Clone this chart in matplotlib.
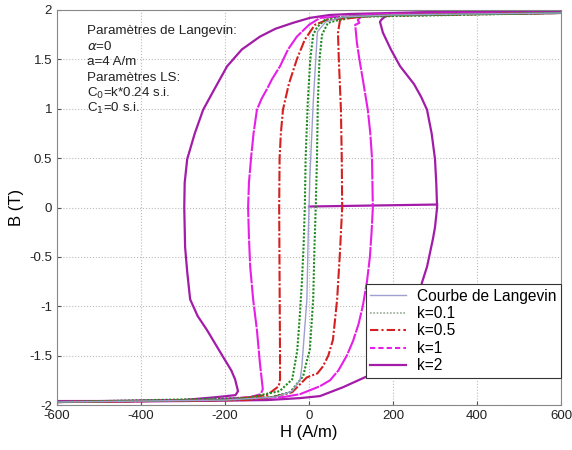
import numpy as np
import matplotlib
matplotlib.use('Agg')
import matplotlib.pyplot as plt
from matplotlib.lines import Line2D

plt.rcParams['font.family'] = ['Liberation Sans', 'DejaVu Sans']

# ── DATA ──────────────────────────────────────────────────────────────────────
# Langevin curve
H_lang = [-600, -200, -80, -40, -21, -17, -5, -2, 2, 10, 20, 40, 80, 200, 600]
B_lang = [-1.97, -1.95, -1.92, -1.86, -1.74, -1.61, -0.93, -0.3, 0.3, 1.06, 1.78, 1.88, 1.93, 1.95, 1.97]

# k=0.1 (descending / ascending branches)
H_k01_dn = [600, 200, 80, 38, 20, 10, 3, -3, -8, -10, -13, -17, -22, -28, -40, -70, -150, -600]
B_k01_dn = [1.97, 1.95, 1.93, 1.9, 1.83, 1.75, 1.5, 1.06, 0.5, 0, -0.4, -0.76, -1.1, -1.45, -1.74, -1.86, -1.93, -1.97]
H_k01_up = [-600, -200, -90, -45, -14, -5, 2, 10, 13, 16, 19, 21, 25, 31, 45, 100, 600]
B_k01_up = [-1.97, -1.95, -1.92, -1.87, -1.71, -1.55, -1.44, -0.93, -0.4, 0, 0.5, 1.06, 1.5, 1.75, 1.87, 1.93, 1.97]

# k=0.5
H_k05_dn = [600, 150, 43, 14, -10, -29, -48, -62, -67, -70, -71, -70, -69, -69, -72, -100, -200, -600]
B_k05_dn = [1.97, 1.94, 1.9, 1.85, 1.7, 1.5, 1.25, 0.99, 0.75, 0.5, 0, -0.76, -1.5, -1.74, -1.81, -1.9, -1.95, -1.97]
H_k05_up = [-600, -150, -86, -40, -5, 20, 33, 46, 57, 67, 74, 79, 78, 76, 71, 69, 74, 114, 200, 600]
B_k05_up = [-1.97, -1.95, -1.92, -1.87, -1.72, -1.68, -1.61, -1.5, -1.34, -0.93, -0.43, 0, 0.5, 0.99, 1.5, 1.77, 1.9, 1.93, 1.95, 1.97]

# k=1
H_k1_dn = [600, 200, 60, 26, 0, -29, -50, -69, -88, -100, -113, -124, -132, -138, -143, -145, -143, -140, -133, -124, -117, -110, -115, -140, -250, -600]
B_k1_dn = [1.97, 1.95, 1.93, 1.92, 1.85, 1.73, 1.6, 1.43, 1.3, 1.2, 1.1, 0.99, 0.75, 0.5, 0.25, 0, -0.3, -0.6, -0.93, -1.24, -1.57, -1.84, -1.89, -1.92, -1.95, -1.97]
H_k1_up = [-600, -200, -62, -21, 26, 50, 70, 90, 105, 118, 128, 138, 145, 149, 152, 151, 150, 146, 140, 128, 120, 114, 110, 120, 116, 129, 200, 600]
B_k1_up = [-1.97, -1.95, -1.92, -1.89, -1.81, -1.75, -1.65, -1.5, -1.35, -1.18, -1.0, -0.75, -0.5, -0.25, 0, 0.25, 0.5, 0.75, 0.99, 1.3, 1.5, 1.67, 1.85, 1.87, 1.9, 1.95, 1.96, 1.97]

# k=2
H_k2_dn = [600, 300, 100, 50, 2, -38, -80, -117, -160, -195, -225, -252, -272, -290, -296, -297, -295, -290, -283, -265, -243, -205, -185, -176, -169, -175, -219, -300, -500, -600]
B_k2_dn = [1.98, 1.98, 1.96, 1.95, 1.92, 1.87, 1.81, 1.73, 1.6, 1.43, 1.2, 0.99, 0.75, 0.49, 0.25, 0, -0.4, -0.65, -0.93, -1.1, -1.24, -1.51, -1.65, -1.74, -1.86, -1.9, -1.92, -1.95, -1.96, -1.96]
H_k2_up = [-600, -300, -100, -21, 26, 81, 138, 170, 200, 222, 240, 257, 269, 281, 295, 300, 305, 303, 300, 292, 281, 267, 250, 217, 195, 176, 169, 172, 180, 200, 300, 600]
B_k2_up = [-1.97, -1.96, -1.95, -1.93, -1.91, -1.82, -1.71, -1.6, -1.45, -1.33, -1.2, -1.0, -0.76, -0.6, -0.32, -0.2, 0, 0.25, 0.49, 0.75, 0.99, 1.12, 1.25, 1.43, 1.6, 1.77, 1.88, 1.9, 1.93, 1.96, 1.98, 1.98]
# first magnetisation segment
H_k2_init = [0, 150, 305]
B_k2_init = [0.01, 0.02, 0.03]

XTICKS = [-600, -400, -200, 0, 200, 400, 600]
YTICKS = [-2, -1.5, -1, -0.5, 0, 0.5, 1, 1.5, 2]
YTICKLABELS = ['-2', '-1.5', '-1', '-0.5', '0', '0.5', '1', '1.5', '2']

INFO = ["Paramètres de Langevin:", r"$\alpha$=0", "a=4 A/m", "Paramètres LS:",
        r"C$_0$=k*0.24 s.i.", r"C$_1$=0 s.i."]

C_LANG = '#a0a0d0'
C_K01 = '#1e8a1e'
C_K05 = '#d42020'
C_K1 = '#e61ee6'
C_K2 = '#a21ca8'

# ── PLOT ──────────────────────────────────────────────────────────────────────
fig = plt.figure(figsize=(5.72, 4.5), dpi=100)
ax = fig.add_axes([57 / 572, 45 / 450, 504 / 572, 395 / 450])

ax.plot(H_k2_dn, B_k2_dn, color=C_K2, lw=1.6)
ax.plot(H_k2_up, B_k2_up, color=C_K2, lw=1.6)
ax.plot(H_k2_init, B_k2_init, color=C_K2, lw=1.6)
ax.plot(H_k1_dn, B_k1_dn, color=C_K1, lw=1.5, ls=(0, (10, 0.6)))
ax.plot(H_k1_up, B_k1_up, color=C_K1, lw=1.5, ls=(0, (10, 0.6)))
ax.plot(H_k05_dn, B_k05_dn, color=C_K05, lw=1.5, ls=(0, (5, 1, 1, 1)))
ax.plot(H_k05_up, B_k05_up, color=C_K05, lw=1.5, ls=(0, (5, 1, 1, 1)))
ax.plot(H_k01_dn, B_k01_dn, color=C_K01, lw=1.5, ls=(0, (1, 0.8)))
ax.plot(H_k01_up, B_k01_up, color=C_K01, lw=1.5, ls=(0, (1, 0.8)))
ax.plot(H_lang, B_lang, color=C_LANG, lw=1.0)

ax.set_xlim(-600, 600)
ax.set_ylim(-2, 2)
ax.set_xticks(XTICKS)
ax.set_xticklabels([str(t) for t in XTICKS])
ax.set_yticks(YTICKS)
ax.set_yticklabels(YTICKLABELS)
ax.tick_params(direction='in', length=3, labelsize=9.5, colors='#555555', labelcolor='#222222')
ax.grid(True, ls=':', color='#bbbbbb', lw=0.8)
for sp in ax.spines.values():
    sp.set_color('#888888')
    sp.set_linewidth(0.8)

ax.set_xlabel("H (A/m)", fontsize=12, labelpad=2)
ax.set_ylabel("B (T)", fontsize=12, labelpad=4)

y0 = 0.947
for i, line in enumerate(INFO):
    ax.text(0.06, y0 - i * 0.0395, line, transform=ax.transAxes,
            fontsize=9.6, color='#222222', va='center', ha='left')

handles = [
    Line2D([], [], color=C_LANG, lw=1.0, ls='-'),
    Line2D([], [], color='#99aa99', lw=1.2, ls=(0, (1, 1))),
    Line2D([], [], color=C_K05, lw=1.5, ls=(0, (4, 1.5, 1, 1.5))),
    Line2D([], [], color=C_K1, lw=1.5, ls=(0, (2.5, 1.5))),
    Line2D([], [], color=C_K2, lw=1.6, ls='-'),
]
labels = ["Courbe de Langevin", "k=0.1", "k=0.5", "k=1", "k=2"]
leg = ax.legend(handles, labels, loc='lower right', bbox_to_anchor=(1.0, 0.068),
                fontsize=11.2, frameon=True, fancybox=False, framealpha=1,
                handlelength=2.3, labelspacing=0.16, borderpad=0.3, handletextpad=0.7,
                borderaxespad=0)
leg.get_frame().set_edgecolor('#333333')
leg.get_frame().set_linewidth(0.8)

plt.savefig("out.png", dpi=100)
plt.close()
